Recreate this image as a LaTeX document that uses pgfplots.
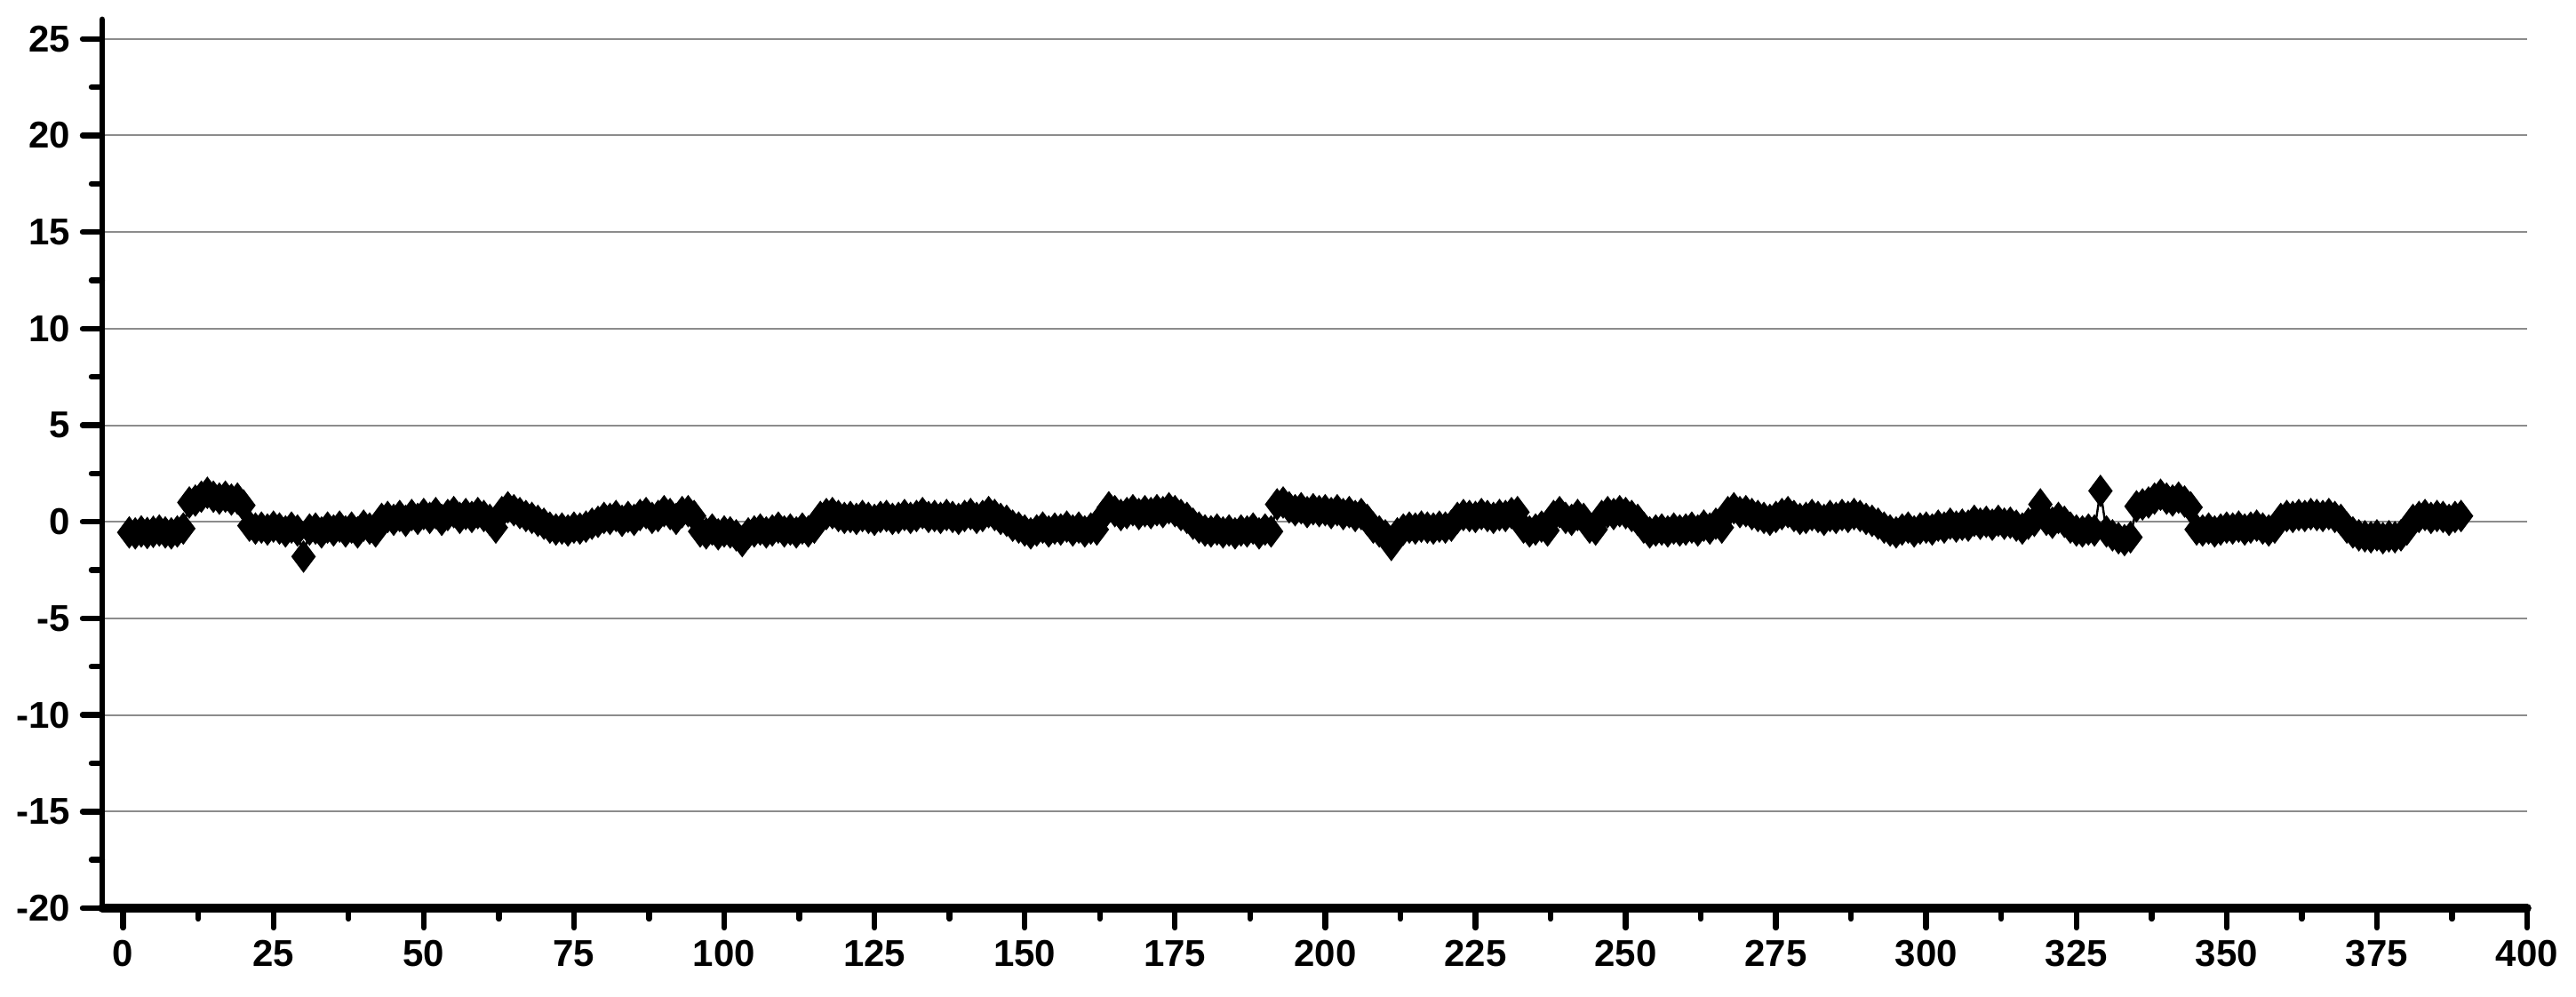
\documentclass[border=0pt]{standalone}
\usepackage{fontspec}
\setmainfont{Liberation Sans}
\usepackage{pgfplots}
\usepackage{pgfplotstable}
\pgfplotsset{compat=1.18}

\pgfplotstableread[row sep=\\]{
x y\\
1 -0.55\\ 2 -0.60\\ 3 -0.50\\ 4 -0.58\\ 5 -0.52\\ 6 -0.45\\ 7 -0.55\\ 8 -0.60\\ 9 -0.50\\ 10 -0.35\\
11 1.00\\ 12 1.10\\ 13 1.30\\ 14 1.50\\ 15 1.30\\ 16 1.20\\ 17 1.30\\ 18 1.15\\ 19 1.20\\ 20 0.85\\
21 -0.20\\ 22 -0.35\\ 23 -0.30\\ 24 -0.40\\ 25 -0.25\\ 26 -0.35\\ 27 -0.50\\ 28 -0.30\\ 29 -0.45\\ 30 -1.80\\
31 -0.40\\ 32 -0.35\\ 33 -0.55\\ 34 -0.30\\ 35 -0.45\\ 36 -0.25\\ 37 -0.50\\ 38 -0.30\\ 39 -0.55\\ 40 -0.20\\
41 -0.35\\ 42 -0.50\\ 43 0.15\\ 44 0.25\\ 45 0.10\\ 46 0.30\\ 47 0.05\\ 48 0.35\\ 49 0.15\\ 50 0.40\\
51 0.20\\ 52 0.45\\ 53 0.10\\ 54 0.35\\ 55 0.50\\ 56 0.20\\ 57 0.40\\ 58 0.25\\ 59 0.45\\ 60 0.30\\
61 0.10\\ 62 -0.30\\ 63 0.50\\ 64 0.75\\ 65 0.60\\ 66 0.45\\ 67 0.30\\ 68 0.20\\ 69 0.05\\ 70 -0.10\\
71 -0.30\\ 72 -0.40\\ 73 -0.35\\ 74 -0.45\\ 75 -0.30\\ 76 -0.35\\ 77 -0.25\\ 78 -0.10\\ 79 0.00\\ 80 0.20\\
81 0.15\\ 82 0.30\\ 83 0.05\\ 84 0.25\\ 85 0.10\\ 86 0.35\\ 87 0.45\\ 88 0.20\\ 89 0.30\\ 90 0.55\\
91 0.40\\ 92 0.15\\ 93 0.50\\ 94 0.55\\ 95 0.30\\ 96 -0.50\\ 97 -0.60\\ 98 -0.40\\ 99 -0.65\\ 100 -0.50\\
101 -0.55\\ 102 -0.70\\ 103 -1.00\\ 104 -0.60\\ 105 -0.50\\ 106 -0.40\\ 107 -0.55\\ 108 -0.45\\ 109 -0.30\\ 110 -0.50\\
111 -0.40\\ 112 -0.55\\ 113 -0.35\\ 114 -0.50\\ 115 -0.30\\ 116 0.25\\ 117 0.40\\ 118 0.45\\ 119 0.30\\ 120 0.20\\
121 0.25\\ 122 0.15\\ 123 0.30\\ 124 0.20\\ 125 0.10\\ 126 0.25\\ 127 0.30\\ 128 0.15\\ 129 0.20\\ 130 0.35\\
131 0.20\\ 132 0.30\\ 133 0.45\\ 134 0.25\\ 135 0.30\\ 136 0.20\\ 137 0.35\\ 138 0.25\\ 139 0.15\\ 140 0.30\\
141 0.40\\ 142 0.20\\ 143 0.30\\ 144 0.50\\ 145 0.35\\ 146 0.15\\ 147 0.05\\ 148 -0.20\\ 149 -0.30\\ 150 -0.45\\
151 -0.60\\ 152 -0.45\\ 153 -0.30\\ 154 -0.50\\ 155 -0.35\\ 156 -0.40\\ 157 -0.25\\ 158 -0.45\\ 159 -0.30\\ 160 -0.50\\
161 -0.35\\ 162 -0.40\\ 163 0.30\\ 164 0.75\\ 165 0.55\\ 166 0.35\\ 167 0.45\\ 168 0.60\\ 169 0.40\\ 170 0.55\\
171 0.45\\ 172 0.60\\ 173 0.50\\ 174 0.70\\ 175 0.55\\ 176 0.35\\ 177 0.20\\ 178 -0.10\\ 179 -0.30\\ 180 -0.45\\
181 -0.50\\ 182 -0.40\\ 183 -0.55\\ 184 -0.45\\ 185 -0.60\\ 186 -0.45\\ 187 -0.50\\ 188 -0.35\\ 189 -0.60\\ 190 -0.40\\
191 -0.50\\ 192 0.90\\ 193 1.00\\ 194 0.75\\ 195 0.60\\ 196 0.70\\ 197 0.50\\ 198 0.65\\ 199 0.55\\ 200 0.60\\
201 0.45\\ 202 0.60\\ 203 0.40\\ 204 0.50\\ 205 0.30\\ 206 0.40\\ 207 0.10\\ 208 -0.30\\ 209 -0.50\\ 210 -0.70\\
211 -1.20\\ 212 -0.60\\ 213 -0.40\\ 214 -0.30\\ 215 -0.35\\ 216 -0.25\\ 217 -0.30\\ 218 -0.35\\ 219 -0.25\\ 220 -0.30\\
221 -0.20\\ 222 0.20\\ 223 0.35\\ 224 0.30\\ 225 0.25\\ 226 0.40\\ 227 0.30\\ 228 0.20\\ 229 0.35\\ 230 0.30\\
231 0.45\\ 232 0.50\\ 233 -0.30\\ 234 -0.50\\ 235 -0.40\\ 236 -0.25\\ 237 -0.45\\ 238 0.30\\ 239 0.50\\ 240 0.20\\
241 0.10\\ 242 0.35\\ 243 0.15\\ 244 -0.30\\ 245 -0.40\\ 246 0.30\\ 247 0.50\\ 248 0.40\\ 249 0.55\\ 250 0.45\\
251 0.30\\ 252 0.10\\ 253 -0.30\\ 254 -0.55\\ 255 -0.45\\ 256 -0.40\\ 257 -0.50\\ 258 -0.35\\ 259 -0.45\\ 260 -0.40\\
261 -0.30\\ 262 -0.45\\ 263 -0.20\\ 264 -0.35\\ 265 -0.10\\ 266 -0.30\\ 267 0.50\\ 268 0.70\\ 269 0.50\\ 270 0.55\\
271 0.40\\ 272 0.30\\ 273 0.20\\ 274 0.10\\ 275 0.25\\ 276 0.40\\ 277 0.50\\ 278 0.30\\ 279 0.15\\ 280 0.20\\
281 0.35\\ 282 0.25\\ 283 0.10\\ 284 0.30\\ 285 0.20\\ 286 0.35\\ 287 0.25\\ 288 0.40\\ 289 0.30\\ 290 0.15\\
291 0.05\\ 292 -0.10\\ 293 -0.30\\ 294 -0.45\\ 295 -0.55\\ 296 -0.40\\ 297 -0.30\\ 298 -0.50\\ 299 -0.35\\ 300 -0.30\\
301 -0.40\\ 302 -0.20\\ 303 -0.30\\ 304 -0.10\\ 305 -0.25\\ 306 -0.15\\ 307 -0.20\\ 308 0.05\\ 309 -0.10\\ 310 0.00\\
311 -0.15\\ 312 0.05\\ 313 -0.10\\ 314 -0.05\\ 315 -0.20\\ 316 -0.35\\ 317 -0.10\\ 318 0.05\\ 319 0.90\\ 320 0.10\\
321 -0.05\\ 322 0.20\\ 323 0.00\\ 324 -0.30\\ 325 -0.45\\ 326 -0.50\\ 327 -0.40\\ 328 -0.45\\ 329 1.60\\ 330 -0.50\\
331 -0.70\\ 332 -0.85\\ 333 -0.95\\ 334 -0.80\\ 335 0.80\\ 336 0.90\\ 337 1.00\\ 338 1.20\\ 339 1.40\\ 340 1.20\\
341 1.10\\ 342 1.25\\ 343 1.05\\ 344 0.75\\ 345 -0.40\\ 346 -0.45\\ 347 -0.35\\ 348 -0.50\\ 349 -0.40\\ 350 -0.30\\
351 -0.35\\ 352 -0.25\\ 353 -0.40\\ 354 -0.30\\ 355 -0.20\\ 356 -0.35\\ 357 -0.45\\ 358 -0.30\\ 359 0.15\\ 360 0.30\\
361 0.25\\ 362 0.35\\ 363 0.30\\ 364 0.40\\ 365 0.35\\ 366 0.30\\ 367 0.40\\ 368 0.25\\ 369 0.10\\ 370 -0.30\\
371 -0.55\\ 372 -0.70\\ 373 -0.75\\ 374 -0.80\\ 375 -0.70\\ 376 -0.85\\ 377 -0.75\\ 378 -0.80\\ 379 -0.70\\ 380 -0.40\\
381 0.10\\ 382 0.25\\ 383 0.35\\ 384 0.20\\ 385 0.30\\ 386 0.25\\ 387 0.10\\ 388 0.25\\ 389 0.30\\
}\series

\begin{document}
\begin{tikzpicture}
\begin{axis}[
    scale only axis,
    width=682.25pt, height=250pt,
    xmin=-3.5, xmax=400, ymin=-20, ymax=26,
    axis x line*=bottom, axis y line*=left,
    x axis line style={line width=2.4pt, -, line cap=round},
    y axis line style={line width=1.7pt, -, line cap=round},
    xtick={0,25,...,400}, ytick={-20,-15,...,25},
    minor x tick num=1, minor y tick num=1,
    tick align=outside,
    major tick length=5.5pt, minor tick length=3pt,
    every tick/.style={black, line width=1.6pt, line cap=round},
    ymajorgrids,
    major grid style={draw=black!45, line width=0.5pt},
    ticklabel style={font=\bfseries\fontsize{10.5}{12}\selectfont},
    /pgf/number format/assume math mode=true,
]
\addplot[black, line width=0.6pt, mark=diamond*, mark size=4.1pt] table[x=x, y=y] {\series};
\end{axis}
\path (-28.75pt,-25pt) rectangle (696pt,255.5pt);
\end{tikzpicture}
\end{document}
